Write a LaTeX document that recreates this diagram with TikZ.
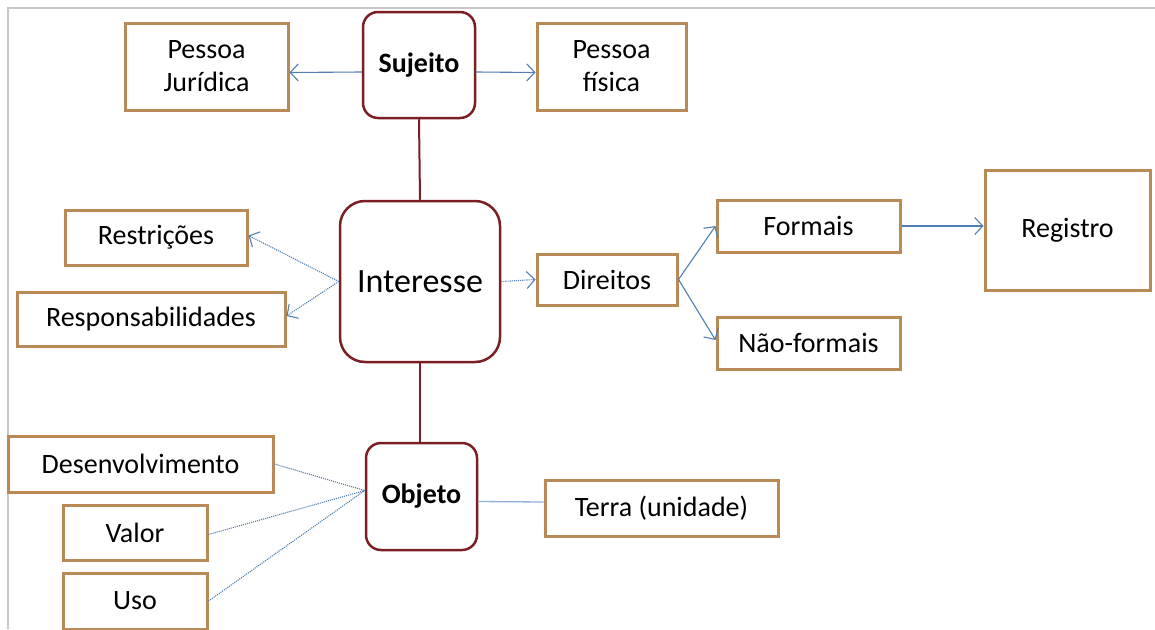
\documentclass[tikz,border=0pt]{standalone}
\usepackage{fontspec}
\setmainfont{Carlito}
\usetikzlibrary{arrows.meta}
\definecolor{obord}{HTML}{B98A56}
\definecolor{rbord}{HTML}{7B1F24}
\definecolor{arrc}{HTML}{4F7FB5}
\definecolor{linec}{HTML}{8FB0D8}
\definecolor{frame}{HTML}{C8C8C8}
\tikzset{
  obox/.style={draw=obord, line width=3pt, fill=white, inner sep=2pt, align=center,
    font=\fontsize{28}{33}\selectfont},
  rbox/.style={draw=rbord, line width=2.5pt, fill=white, rounded corners=15pt, inner sep=2pt},
  arr/.style={draw=arrc, line width=1.1pt, -{Straight Barb[length=8pt,width=17pt]}},
  darr/.style={arr, densely dotted},
  redline/.style={draw=rbord, line width=2pt},
  dline/.style={draw=arrc, line width=1.1pt, densely dotted},
  sline/.style={draw=linec, line width=1.3pt},
}
\begin{document}
\begin{tikzpicture}[x=1pt,y=-1pt]
\useasboundingbox (0,0) rectangle (1155,629);
\fill[white] (0,0) rectangle (1155,629);
\draw[frame, line width=1.5pt] (8,629) -- (8,8) -- (1155,8);

% central nodes
\node[rbox, minimum width=112pt, minimum height=106pt, font=\fontsize{28}{32}\selectfont\bfseries] (suj) at (419,65) {Sujeito};
\node[rbox, rounded corners=25pt, minimum width=160pt, minimum height=161pt, font=\fontsize{34}{40}\selectfont] (int) at (420,281.5) {Interesse};
\node[rbox, minimum width=111pt, minimum height=107pt, font=\fontsize{28}{32}\selectfont\bfseries] (obj) at (421.5,496.5) {Objeto};

% outer boxes
\node[obox, minimum width=163pt, minimum height=87pt] (pj) at (206.5,66.5) {Pessoa\\Jurídica};
\node[obox, minimum width=149pt, minimum height=87pt] (pf) at (611.5,66.5) {Pessoa\\física};
\node[obox, minimum width=182pt, minimum height=55pt] (res) at (156,237.5) {Restrições};
\node[obox, minimum width=268pt, minimum height=54pt] (resp) at (151,319) {Responsabilidades};
\node[obox, minimum width=140pt, minimum height=51pt] (dir) at (607,279.5) {Direitos};
\node[obox, minimum width=183pt, minimum height=52pt] (form) at (808.5,226) {Formais};
\node[obox, minimum width=183pt, minimum height=52pt] (nf) at (808.5,343) {Não-formais};
\node[obox, minimum width=165pt, minimum height=120pt] (reg) at (1067.5,230) {\raisebox{5pt}{Registro}};
\node[obox, minimum width=265pt, minimum height=56pt] (des) at (140.5,464) {Desenvolvimento};
\node[obox, minimum width=144pt, minimum height=55pt] (val) at (135,532.5) {Valor};
\node[obox, minimum width=144pt, minimum height=56pt] (uso) at (135,601) {Uso};
\node[obox, minimum width=233pt, minimum height=56pt] (ter) at (661.5,508) {Terra (unidade)};

% connectors
\draw[redline] (suj.south) -- (int.north);
\draw[redline] (int.south) -- (int.south |- obj.north);
\draw[arr] ([yshift=-7pt]suj.west) -- ([yshift=-6pt]pj.east);
\draw[arr] ([yshift=-7pt]suj.east) -- ([yshift=-6pt]pf.west);
\draw[darr] (int.west) -- ([yshift=2pt]res.east);
\draw[darr] (int.west) -- ([yshift=3pt]resp.east);
\draw[darr] (int.east) -- (dir.west);
\draw[arr] (dir.east) -- (form.west);
\draw[arr] (dir.east) -- ([yshift=3pt]nf.west);
\draw[arr] (form.east) -- ([yshift=4pt]reg.west);
\draw[sline] ([yshift=-5pt]obj.east) -- ([yshift=6pt]ter.west);
\coordinate (oj) at ([yshift=6pt]obj.west);
\draw[dline] (des.east) -- (oj);
\draw[dline] ([yshift=-2pt]val.east) -- (oj);
\draw[dline] (uso.east) -- (oj);
\end{tikzpicture}
\end{document}
